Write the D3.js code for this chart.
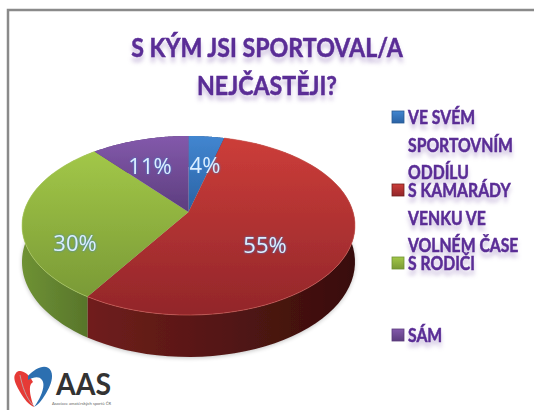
<!DOCTYPE html>
<html>
<head>
<meta charset="utf-8">
<script src="https://cdn.jsdelivr.net/npm/d3@7/dist/d3.min.js"></script>
<style>
    html, body { margin: 0; padding: 0; background: #fff; }
    svg { display: block; font-family: Lato, "Open Sans", sans-serif; }
    .violet { fill: #5a2d96; stroke: #5a2d96; stroke-width: 0.5; font-weight: 700; filter: drop-shadow(0 5px 2px rgba(90, 45, 150, 0.3)) blur(0.4px); }
</style>
</head>
<body>
<div id="chart"></div>
<script>
const titleLines = ['S KÝM JSI SPORTOVAL/A', 'NEJČASTĚJI?'];
const categories = ['VE SVÉM SPORTOVNÍM ODDÍLU', 'S KAMARÁDY VENKU VE VOLNÉM ČASE', 'S RODIČI', 'SÁM'];
const legendLines = [['VE SVÉM', 'SPORTOVNÍM', 'ODDÍLU'], ['S KAMARÁDY', 'VENKU VE', 'VOLNÉM ČASE'], ['S RODIČI'], ['SÁM']];
const values = [4, 55, 30, 11];
const topColors = [['#4286d0', '#2a62a4'], ['#cc3d39', '#92262a'], ['#a2c748', '#7a9a36'], ['#8359ab', '#5c3d7e']];
const wallColors = [['#2a5a94', '#1d4270'], ['#701e1c', '#380e0c'], ['#6f9234', '#55722a'], ['#5a3a7c', '#3f2858']];
const legendTop = [111, 184, 257, 329];
const labelPos = [[205, 165], [265, 245], [75, 243], [150, 166]];

const width = 534;
const height = 410;

// Lato runs wider than the original font
const squeeze = 0.875;

// the pie is tilted with some perspective, the centre sits above the ellipse middle
const cx = 188.5;
const apexY = 212;
const radiusX = 164.6;
const radiusY = 87.5;
const tilt = -0.151;
const wallDepth = 35.6;

const project = (angle, r = 1, drop = 0) => {
    const u = r * Math.sin(angle);
    const v = -r * Math.cos(angle);
    const w = 1 + tilt * v;
    return [cx + radiusX * u / w, apexY + radiusY * v / w + drop / w];
};

const squeezeText = function () {
    d3.select(this)
        .attr('textLength', this.getComputedTextLength() * squeeze)
        .attr('lengthAdjust', 'spacingAndGlyphs');
};

const svg = d3.select('#chart')
    .append('svg')
    .attr('width', width)
    .attr('height', height);

const defs = svg.append('defs');

const addGradient = (id, colors, x2, y2) => {
    const gradient = defs.append('linearGradient')
        .attr('id', id)
        .attr('x1', 0).attr('y1', 0)
        .attr('x2', x2).attr('y2', y2);
    gradient.append('stop').attr('offset', 0).attr('stop-color', colors[0]);
    gradient.append('stop').attr('offset', 1).attr('stop-color', colors[1]);
};

values.forEach((d, i) => {
    addGradient('top' + i, topColors[i], 0, 1);
    addGradient('wall' + i, wallColors[i], 1, 0);
});

defs.append('filter').attr('id', 'soft').append('feGaussianBlur').attr('stdDeviation', 0.5);
defs.append('filter').attr('id', 'shadow').append('feGaussianBlur').attr('stdDeviation', 2);

// frame, only top and left are visible
svg.append('path')
    .attr('d', 'M534,10H8V410')
    .attr('fill', 'none')
    .attr('stroke', '#8a8a8a')
    .attr('stroke-width', 2.5);

const title = svg.append('g').attr('class', 'violet').attr('text-anchor', 'middle');
title.selectAll('text')
    .data(titleLines)
    .join('text')
    .attr('x', 267)
    .attr('y', (d, i) => 57 + i * 38)
    .attr('font-size', 26.5)
    .text(d => d)
    .each(squeezeText);

const arcs = d3.pie().sort(null)(values);
const line = d3.line();
const arcPoints = (d, r, drop) => d3.range(0, 1.0001, 1 / 60)
    .map(t => project(d.startAngle + t * (d.endAngle - d.startAngle), r, drop));

const pie = svg.append('g').attr('filter', 'url(#soft)');

// soft shadow under the wall
pie.append('path')
    .attr('d', line(d3.range(0, 1.0001, 1 / 120).map(t => project(t * 2 * Math.PI, 1, wallDepth + 1))) + 'Z')
    .attr('fill', '#000')
    .attr('opacity', 0.22)
    .attr('filter', 'url(#shadow)');

pie.selectAll('path.wall')
    .data(arcs)
    .join('path')
    .attr('class', 'wall')
    .attr('d', d => line(arcPoints(d, 1, 0).concat(arcPoints(d, 1, wallDepth).reverse())) + 'Z')
    .attr('fill', (d, i) => `url(#wall${i})`);

pie.selectAll('path.top')
    .data(arcs)
    .join('path')
    .attr('class', 'top')
    .attr('d', d => line([project(0, 0)].concat(arcPoints(d, 1, 0))) + 'Z')
    .attr('fill', (d, i) => `url(#top${i})`);

// thin highlight along the front rim
pie.selectAll('path.rim')
    .data(arcs.slice(1, 3))
    .join('path')
    .attr('class', 'rim')
    .attr('d', d => line(arcPoints(d, 1, 0)))
    .attr('fill', 'none')
    .attr('stroke', (d, i) => ['#d9625c', '#b5d46a'][i])
    .attr('stroke-opacity', 0.6)
    .attr('stroke-width', 1);

svg.append('g')
    .selectAll('text')
    .data(values)
    .join('text')
    .attr('x', (d, i) => labelPos[i][0])
    .attr('y', (d, i) => labelPos[i][1])
    .attr('dy', '0.35em')
    .attr('text-anchor', 'middle')
    .attr('font-family', '"Open Sans", sans-serif')
    .attr('font-size', 22)
    .attr('fill', '#dcefff')
    .style('filter', 'drop-shadow(0 0 1px #3f86d8)')
    .text(d => d + '%');

// legend
const legend = svg.append('g');
const legendRows = legend.selectAll('g')
    .data(categories)
    .join('g')
    .attr('transform', (d, i) => `translate(392,${legendTop[i]})`);

legendRows.append('rect')
    .attr('width', 12)
    .attr('height', 12)
    .attr('fill', (d, i) => `url(#top${i})`)
    .attr('stroke', (d, i) => wallColors[i][0])
    .attr('stroke-width', 0.8);

legendRows.append('g')
    .attr('class', 'violet')
    .selectAll('text')
    .data((d, i) => legendLines[i])
    .join('text')
    .attr('x', 16)
    .attr('y', (d, i) => 13 + i * 27.5)
    .attr('font-size', 18)
    .text(d => d)
    .each(squeezeText);

// AAS logo
const logo = svg.append('g').attr('transform', 'translate(14,365)').style('filter', 'blur(0.5px)');
logo.append('path')
    .attr('d', 'M19,17C13,6 5,4 2,8C-2,13 2,20 6,27C10,34 15,40 20,42C17,34 13,20 19,17Z')
    .attr('fill', '#e63a36');
logo.append('path')
    .attr('d', 'M14,11C22,2 33,-2 37,6C40,13 36,22 31,30C28,35 24,40 20,42C27,33 32,20 28,15C25,11 20,12 14,15Z')
    .attr('fill', '#2c6fb0');
logo.append('path')
    .attr('d', 'M6,10C8,20 12,34 20,41')
    .attr('fill', 'none')
    .attr('stroke', '#b8b8b8')
    .attr('stroke-width', 0.8);
svg.append('text')
    .attr('x', 56)
    .attr('y', 395)
    .attr('font-size', 30)
    .attr('font-weight', 700)
    .attr('fill', '#333')
    .attr('textLength', 55)
    .attr('lengthAdjust', 'spacingAndGlyphs')
    .text('AAS');
svg.append('text')
    .attr('x', 52)
    .attr('y', 405)
    .attr('font-size', 4.5)
    .attr('fill', '#666')
    .attr('textLength', 59)
    .attr('lengthAdjust', 'spacingAndGlyphs')
    .text('Asociace amatérských sportů ČR');
</script>
</body>
</html>
